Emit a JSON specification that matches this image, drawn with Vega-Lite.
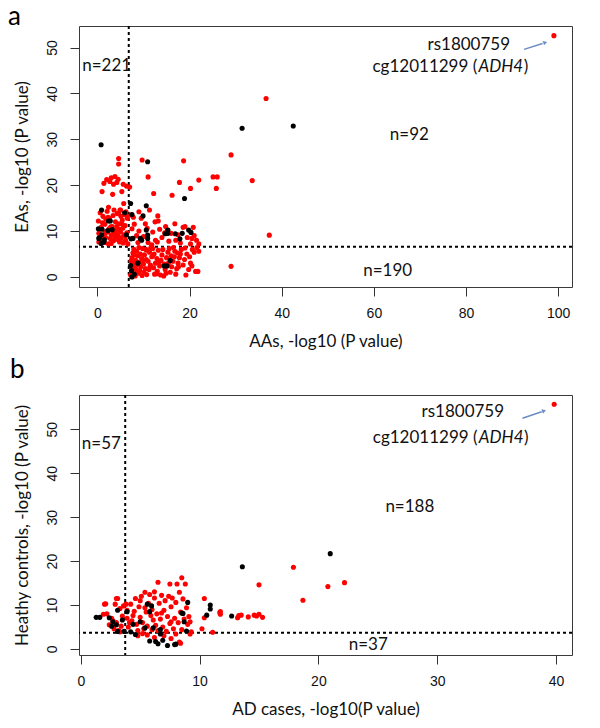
{
  "$schema": "https://vega.github.io/schema/vega-lite/v6.json",
  "background": "white",
  "padding": {"left": 7, "top": 3, "right": 5, "bottom": 3},
  "spacing": 6,
  "datasets": {
    "a": [
      {"x":0.2,"y":12.2,"c":"r"},{"x":0.3,"y":9.5,"c":"r"},{"x":0.5,"y":8.2,"c":"r"},{"x":0.8,"y":10.8,"c":"r"},{"x":1.0,"y":18.6,"c":"r"},{"x":1.2,"y":13.2,"c":"r"},{"x":1.3,"y":9.0,"c":"r"},{"x":1.4,"y":20.4,"c":"r"},{"x":1.5,"y":7.5,"c":"r"},{"x":1.6,"y":11.5,"c":"r"},{"x":1.8,"y":8.6,"c":"r"},{"x":2.0,"y":21.2,"c":"r"},{"x":2.1,"y":14.3,"c":"r"},{"x":2.2,"y":9.8,"c":"r"},{"x":2.4,"y":7.2,"c":"r"},{"x":2.5,"y":10.5,"c":"r"},{"x":2.6,"y":12.8,"c":"r"},{"x":2.7,"y":20.8,"c":"r"},{"x":2.8,"y":8.4,"c":"r"},{"x":3.0,"y":9.2,"c":"r"},{"x":3.0,"y":21.6,"c":"r"},{"x":3.2,"y":11.0,"c":"r"},{"x":3.3,"y":18.0,"c":"r"},{"x":3.4,"y":13.4,"c":"r"},{"x":3.5,"y":7.9,"c":"r"},{"x":3.5,"y":20.2,"c":"r"},{"x":3.6,"y":9.6,"c":"r"},{"x":3.8,"y":21.9,"c":"r"},{"x":3.9,"y":12.0,"c":"r"},{"x":4.0,"y":10.2,"c":"r"},{"x":4.1,"y":8.2,"c":"r"},{"x":4.2,"y":20.6,"c":"r"},{"x":4.3,"y":13.8,"c":"r"},{"x":4.4,"y":9.0,"c":"r"},{"x":4.5,"y":21.3,"c":"r"},{"x":4.6,"y":25.8,"c":"r"},{"x":4.6,"y":24.6,"c":"r"},{"x":4.7,"y":11.6,"c":"r"},{"x":4.8,"y":7.6,"c":"r"},{"x":4.9,"y":14.6,"c":"r"},{"x":5.0,"y":9.8,"c":"r"},{"x":5.1,"y":13.2,"c":"r"},{"x":5.2,"y":8.6,"c":"r"},{"x":5.3,"y":18.6,"c":"r"},{"x":5.4,"y":12.4,"c":"r"},{"x":5.5,"y":10.6,"c":"r"},{"x":5.6,"y":7.4,"c":"r"},{"x":5.7,"y":16.0,"c":"r"},{"x":5.8,"y":9.2,"c":"r"},{"x":5.9,"y":13.6,"c":"r"},{"x":6.0,"y":11.2,"c":"r"},{"x":6.1,"y":8.0,"c":"r"},{"x":6.2,"y":14.2,"c":"r"},{"x":6.3,"y":19.8,"c":"r"},{"x":6.4,"y":9.6,"c":"r"},{"x":6.5,"y":12.8,"c":"r"},{"x":6.6,"y":7.2,"c":"r"},{"x":0.6,"y":14.0,"c":"r"},{"x":1.1,"y":11.8,"c":"r"},{"x":1.7,"y":9.6,"c":"r"},{"x":2.3,"y":13.0,"c":"r"},{"x":2.9,"y":10.9,"c":"r"},{"x":3.6,"y":14.6,"c":"r"},{"x":4.2,"y":11.0,"c":"r"},{"x":5.0,"y":14.6,"c":"r"},{"x":4.6,"y":13.9,"c":"r"},{"x":0.3,"y":7.6,"c":"r"},{"x":1.0,"y":8.0,"c":"r"},{"x":2.0,"y":10.0,"c":"r"},{"x":3.0,"y":7.3,"c":"r"},{"x":4.0,"y":9.4,"c":"r"},{"x":5.0,"y":8.2,"c":"r"},{"x":6.0,"y":9.0,"c":"r"},{"x":6.3,"y":13.4,"c":"r"},{"x":5.6,"y":20.2,"c":"r"},{"x":2.4,"y":15.2,"c":"r"},{"x":1.8,"y":12.6,"c":"r"},{"x":0.7,"y":9.0,"c":"r"},{"x":3.8,"y":8.6,"c":"r"},{"x":4.8,"y":10.4,"c":"r"},{"x":5.3,"y":11.6,"c":"r"},
      {"x":9.7,"y":25.5,"c":"r"},{"x":11.0,"y":21.8,"c":"r"},{"x":12.2,"y":18.2,"c":"r"},{"x":16.2,"y":17.8,"c":"r"},{"x":17.8,"y":20.6,"c":"r"},{"x":18.7,"y":25.3,"c":"r"},{"x":20.2,"y":19.3,"c":"r"},{"x":22.0,"y":21.1,"c":"r"},{"x":25.1,"y":21.8,"c":"r"},{"x":26.0,"y":21.8,"c":"r"},{"x":25.8,"y":19.3,"c":"r"},{"x":29.0,"y":26.6,"c":"r"},{"x":33.6,"y":21.0,"c":"r"},{"x":36.6,"y":38.9,"c":"r"},{"x":37.3,"y":9.1,"c":"r"},{"x":11.3,"y":14.6,"c":"r"},{"x":13.1,"y":13.3,"c":"r"},{"x":13.2,"y":12.2,"c":"r"},{"x":8.0,"y":11.5,"c":"r"},{"x":9.5,"y":12.8,"c":"r"},{"x":7.5,"y":10.5,"c":"r"},{"x":8.5,"y":9.0,"c":"r"},{"x":9.0,"y":10.0,"c":"r"},{"x":10.0,"y":8.8,"c":"r"},{"x":11.0,"y":7.5,"c":"r"},{"x":12.0,"y":9.8,"c":"r"},{"x":12.6,"y":8.0,"c":"r"},{"x":13.5,"y":10.4,"c":"r"},{"x":14.0,"y":8.6,"c":"r"},{"x":14.8,"y":11.0,"c":"r"},{"x":15.5,"y":7.8,"c":"r"},{"x":16.0,"y":9.5,"c":"r"},{"x":17.0,"y":8.0,"c":"r"},{"x":18.0,"y":7.4,"c":"r"},{"x":18.6,"y":10.8,"c":"r"},{"x":19.5,"y":8.6,"c":"r"},{"x":20.2,"y":7.2,"c":"r"},{"x":20.8,"y":10.8,"c":"r"},{"x":21.5,"y":8.0,"c":"r"},{"x":21.0,"y":9.0,"c":"r"},{"x":7.3,"y":13.5,"c":"r"},{"x":8.8,"y":7.5,"c":"r"},{"x":10.4,"y":11.6,"c":"r"},{"x":11.8,"y":7.0,"c":"r"},{"x":14.6,"y":9.6,"c":"r"},{"x":16.8,"y":11.6,"c":"r"},{"x":19.0,"y":11.0,"c":"r"},{"x":7.0,"y":19.6,"c":"r"},{"x":7.8,"y":13.0,"c":"r"},{"x":12.5,"y":12.0,"c":"r"},{"x":15.2,"y":10.2,"c":"r"},{"x":17.5,"y":9.2,"c":"r"},{"x":9.0,"y":14.2,"c":"r"},{"x":10.8,"y":10.6,"c":"r"},{"x":13.0,"y":7.6,"c":"r"},{"x":20.5,"y":8.4,"c":"r"},{"x":22.0,"y":7.2,"c":"r"},
      {"x":7.2,"y":0.4,"c":"r"},{"x":7.4,"y":1.2,"c":"r"},{"x":7.6,"y":2.0,"c":"r"},{"x":7.8,"y":3.0,"c":"r"},{"x":7.5,"y":4.2,"c":"r"},{"x":7.7,"y":5.2,"c":"r"},{"x":7.9,"y":6.0,"c":"r"},{"x":8.2,"y":0.2,"c":"r"},{"x":8.4,"y":1.6,"c":"r"},{"x":8.6,"y":2.6,"c":"r"},{"x":8.3,"y":3.6,"c":"r"},{"x":8.8,"y":4.6,"c":"r"},{"x":8.5,"y":5.6,"c":"r"},{"x":8.9,"y":0.8,"c":"r"},{"x":9.2,"y":1.4,"c":"r"},{"x":9.4,"y":2.2,"c":"r"},{"x":9.0,"y":3.2,"c":"r"},{"x":9.6,"y":4.0,"c":"r"},{"x":9.3,"y":5.0,"c":"r"},{"x":9.8,"y":6.2,"c":"r"},{"x":9.7,"y":0.3,"c":"r"},{"x":10.1,"y":1.0,"c":"r"},{"x":10.4,"y":1.8,"c":"r"},{"x":10.0,"y":2.8,"c":"r"},{"x":10.6,"y":3.8,"c":"r"},{"x":10.2,"y":4.8,"c":"r"},{"x":10.8,"y":5.8,"c":"r"},{"x":10.7,"y":0.5,"c":"r"},{"x":11.2,"y":1.6,"c":"r"},{"x":11.5,"y":2.6,"c":"r"},{"x":11.0,"y":3.4,"c":"r"},{"x":11.8,"y":4.4,"c":"r"},{"x":11.3,"y":5.4,"c":"r"},{"x":12.0,"y":6.2,"c":"r"},{"x":12.4,"y":0.6,"c":"r"},{"x":12.2,"y":2.0,"c":"r"},{"x":12.6,"y":3.0,"c":"r"},{"x":12.9,"y":4.0,"c":"r"},{"x":12.3,"y":5.0,"c":"r"},{"x":13.2,"y":5.8,"c":"r"},{"x":13.0,"y":1.2,"c":"r"},{"x":13.7,"y":0.4,"c":"r"},{"x":13.5,"y":2.4,"c":"r"},{"x":13.8,"y":3.6,"c":"r"},{"x":14.0,"y":4.8,"c":"r"},{"x":14.2,"y":6.0,"c":"r"},{"x":14.4,"y":0.2,"c":"r"},{"x":14.7,"y":1.6,"c":"r"},{"x":14.5,"y":2.8,"c":"r"},{"x":15.0,"y":4.2,"c":"r"},{"x":15.3,"y":5.4,"c":"r"},{"x":15.6,"y":6.2,"c":"r"},{"x":15.8,"y":1.0,"c":"r"},{"x":16.1,"y":2.2,"c":"r"},{"x":16.4,"y":3.4,"c":"r"},{"x":16.0,"y":4.6,"c":"r"},{"x":16.8,"y":5.6,"c":"r"},{"x":17.0,"y":0.6,"c":"r"},{"x":17.2,"y":1.8,"c":"r"},{"x":17.5,"y":3.0,"c":"r"},{"x":17.8,"y":4.2,"c":"r"},{"x":17.4,"y":5.2,"c":"r"},{"x":18.2,"y":6.0,"c":"r"},{"x":18.6,"y":2.6,"c":"r"},{"x":18.9,"y":3.8,"c":"r"},{"x":19.2,"y":0.4,"c":"r"},{"x":19.4,"y":5.0,"c":"r"},{"x":19.8,"y":1.6,"c":"r"},{"x":20.0,"y":4.4,"c":"r"},{"x":20.2,"y":3.0,"c":"r"},{"x":20.6,"y":6.0,"c":"r"},{"x":21.0,"y":5.4,"c":"r"},{"x":21.3,"y":1.2,"c":"r"},{"x":21.8,"y":1.2,"c":"r"},{"x":21.6,"y":6.4,"c":"r"},{"x":22.0,"y":5.6,"c":"r"},{"x":29.0,"y":2.3,"c":"r"},{"x":12.9,"y":0.7,"c":"r"},{"x":8.0,"y":4.8,"c":"r"},{"x":11.6,"y":6.4,"c":"r"},{"x":16.5,"y":6.4,"c":"r"},{"x":10.5,"y":6.0,"c":"r"},{"x":9.0,"y":6.4,"c":"r"},{"x":14.9,"y":0.8,"c":"r"},{"x":18.0,"y":5.0,"c":"r"},{"x":20.5,"y":2.4,"c":"r"},{"x":12.0,"y":4.6,"c":"r"},{"x":15.4,"y":3.0,"c":"r"},{"x":17.6,"y":2.2,"c":"r"},{"x":8.2,"y":2.4,"c":"r"},{"x":9.9,"y":3.6,"c":"r"},{"x":11.4,"y":2.2,"c":"r"},{"x":13.3,"y":3.2,"c":"r"},{"x":16.7,"y":4.4,"c":"r"},{"x":19.0,"y":6.3,"c":"r"},{"x":7.3,"y":3.5,"c":"r"},{"x":99.07,"y":52.6,"c":"r"},
      {"x":0.8,"y":28.8,"c":"k"},{"x":0.9,"y":14.6,"c":"k"},{"x":2.4,"y":12.2,"c":"k"},{"x":2.8,"y":12.2,"c":"k"},{"x":0.2,"y":10.5,"c":"k"},{"x":0.3,"y":8.4,"c":"k"},{"x":0.8,"y":7.3,"c":"k"},{"x":1.4,"y":7.6,"c":"k"},{"x":0.4,"y":8.5,"c":"k"},{"x":1.5,"y":8.1,"c":"k"},{"x":2.3,"y":10.1,"c":"k"},{"x":3.2,"y":10.3,"c":"k"},{"x":0.9,"y":9.2,"c":"k"},{"x":6.3,"y":9.2,"c":"k"},{"x":1.0,"y":10.4,"c":"k"},{"x":5.9,"y":14.0,"c":"k"},
      {"x":7.2,"y":16.0,"c":"k"},{"x":10.6,"y":15.5,"c":"k"},{"x":7.5,"y":13.6,"c":"k"},{"x":9.9,"y":13.3,"c":"k"},{"x":10.6,"y":10.2,"c":"k"},{"x":10.9,"y":9.1,"c":"k"},{"x":10.9,"y":8.4,"c":"k"},{"x":9.3,"y":8.4,"c":"k"},{"x":7.7,"y":8.4,"c":"k"},{"x":15.3,"y":10.2,"c":"k"},{"x":15.3,"y":9.5,"c":"k"},{"x":18.4,"y":9.5,"c":"k"},{"x":19.8,"y":10.2,"c":"k"},{"x":20.3,"y":9.7,"c":"k"},{"x":17.9,"y":8.3,"c":"k"},{"x":10.9,"y":25.1,"c":"k"},{"x":18.9,"y":17.1,"c":"k"},{"x":31.4,"y":32.4,"c":"k"},{"x":42.5,"y":32.9,"c":"k"},{"x":7.3,"y":8.3,"c":"k"},{"x":9.6,"y":8.0,"c":"k"},{"x":14.7,"y":9.4,"c":"k"},{"x":16.9,"y":9.4,"c":"k"},
      {"x":7.2,"y":2.5,"c":"k"},{"x":7.5,"y":0.0,"c":"k"},{"x":7.4,"y":1.4,"c":"k"},{"x":8.0,"y":0.6,"c":"k"},{"x":15.8,"y":3.6,"c":"k"},{"x":14.5,"y":2.4,"c":"k"},{"x":15.1,"y":2.4,"c":"k"},{"x":8.8,"y":3.0,"c":"k"}
    ],
    "b": [
      {"x":2.0,"y":10.2,"c":"r"},{"x":2.9,"y":10.2,"c":"r"},{"x":3.0,"y":11.5,"c":"r"},{"x":2.2,"y":8.0,"c":"r"},{"x":2.6,"y":7.0,"c":"r"},{"x":3.3,"y":9.2,"c":"r"},{"x":2.4,"y":5.5,"c":"r"},{"x":3.0,"y":6.0,"c":"r"},{"x":3.5,"y":7.5,"c":"r"},{"x":2.8,"y":4.6,"c":"r"},{"x":3.2,"y":4.2,"c":"r"},{"x":3.4,"y":5.2,"c":"r"},{"x":1.9,"y":7.9,"c":"r"},{"x":2.1,"y":10.3,"c":"r"},{"x":3.1,"y":11.5,"c":"r"},{"x":3.6,"y":9.8,"c":"r"},{"x":2.7,"y":6.4,"c":"r"},{"x":3.3,"y":3.9,"c":"r"},
      {"x":3.8,"y":10.2,"c":"r"},{"x":4.2,"y":10.2,"c":"r"},{"x":3.9,"y":7.0,"c":"r"},{"x":4.0,"y":5.0,"c":"r"},{"x":4.3,"y":6.4,"c":"r"},{"x":4.5,"y":8.6,"c":"r"},{"x":4.6,"y":11.5,"c":"r"},{"x":4.7,"y":5.6,"c":"r"},{"x":4.8,"y":4.2,"c":"r"},{"x":4.9,"y":9.6,"c":"r"},{"x":5.0,"y":7.2,"c":"r"},{"x":5.1,"y":12.0,"c":"r"},{"x":5.2,"y":6.0,"c":"r"},{"x":5.3,"y":4.6,"c":"r"},{"x":5.4,"y":12.9,"c":"r"},{"x":5.5,"y":8.4,"c":"r"},{"x":5.6,"y":5.2,"c":"r"},{"x":5.7,"y":10.4,"c":"r"},{"x":5.8,"y":12.4,"c":"r"},{"x":5.9,"y":7.6,"c":"r"},{"x":6.0,"y":4.4,"c":"r"},{"x":6.0,"y":9.0,"c":"r"},{"x":6.1,"y":6.6,"c":"r"},{"x":6.2,"y":11.6,"c":"r"},{"x":6.3,"y":5.4,"c":"r"},{"x":6.4,"y":8.0,"c":"r"},{"x":6.5,"y":15.2,"c":"r"},{"x":6.5,"y":4.2,"c":"r"},{"x":6.6,"y":10.4,"c":"r"},{"x":6.7,"y":6.8,"c":"r"},{"x":6.8,"y":12.2,"c":"r"},{"x":6.9,"y":5.0,"c":"r"},{"x":7.0,"y":8.8,"c":"r"},{"x":7.1,"y":11.0,"c":"r"},{"x":7.2,"y":4.0,"c":"r"},{"x":7.3,"y":7.4,"c":"r"},{"x":7.4,"y":12.0,"c":"r"},{"x":7.5,"y":14.8,"c":"r"},{"x":7.5,"y":5.8,"c":"r"},{"x":7.6,"y":9.6,"c":"r"},{"x":7.7,"y":11.6,"c":"r"},{"x":7.8,"y":4.6,"c":"r"},{"x":7.9,"y":7.0,"c":"r"},{"x":8.0,"y":10.6,"c":"r"},{"x":8.1,"y":14.8,"c":"r"},{"x":8.2,"y":6.0,"c":"r"},{"x":8.3,"y":12.9,"c":"r"},{"x":8.4,"y":8.4,"c":"r"},{"x":8.5,"y":16.2,"c":"r"},{"x":8.5,"y":4.4,"c":"r"},{"x":8.6,"y":11.4,"c":"r"},{"x":8.7,"y":6.8,"c":"r"},{"x":8.8,"y":14.8,"c":"r"},{"x":8.9,"y":9.4,"c":"r"},{"x":9.0,"y":5.6,"c":"r"},{"x":9.1,"y":7.4,"c":"r"},{"x":9.2,"y":6.2,"c":"r"},{"x":9.3,"y":3.9,"c":"r"},{"x":5.4,"y":9.4,"c":"r"},{"x":4.4,"y":7.6,"c":"r"},{"x":6.8,"y":8.2,"c":"r"},{"x":7.6,"y":6.2,"c":"r"},{"x":5.0,"y":11.0,"c":"r"},{"x":6.2,"y":13.0,"c":"r"},{"x":3.9,"y":8.8,"c":"r"},{"x":4.1,"y":6.0,"c":"r"},{"x":10.2,"y":4.6,"c":"r"},{"x":10.4,"y":7.1,"c":"r"},{"x":10.4,"y":11.5,"c":"r"},{"x":11.1,"y":3.8,"c":"r"},{"x":11.7,"y":8.3,"c":"r"},{"x":11.75,"y":8.5,"c":"r"},{"x":11.75,"y":7.9,"c":"r"},{"x":13.2,"y":7.1,"c":"r"},{"x":13.5,"y":7.7,"c":"r"},{"x":14.1,"y":7.3,"c":"r"},{"x":14.6,"y":7.7,"c":"r"},{"x":15.0,"y":7.9,"c":"r"},{"x":15.3,"y":7.2,"c":"r"},{"x":15.0,"y":14.6,"c":"r"},{"x":17.9,"y":18.6,"c":"r"},{"x":18.7,"y":11.1,"c":"r"},{"x":20.8,"y":14.2,"c":"r"},{"x":22.2,"y":15.1,"c":"r"},{"x":13.3,"y":7.6,"c":"r"},{"x":14.8,"y":7.5,"c":"r"},{"x":39.85,"y":55.7,"c":"r"},
      {"x":8.3,"y":1.6,"c":"r"},{"x":8.4,"y":1.3,"c":"r"},{"x":4.8,"y":3.0,"c":"r"},{"x":5.6,"y":3.2,"c":"r"},{"x":6.2,"y":2.6,"c":"r"},{"x":7.0,"y":3.0,"c":"r"},{"x":7.6,"y":2.4,"c":"r"},{"x":8.0,"y":3.4,"c":"r"},{"x":9.2,"y":3.4,"c":"r"},{"x":5.2,"y":3.5,"c":"r"},
      {"x":13.6,"y":18.7,"c":"k"},{"x":21.0,"y":21.7,"c":"k"},{"x":12.7,"y":7.5,"c":"k"},{"x":10.9,"y":10.0,"c":"k"},{"x":10.9,"y":9.1,"c":"k"},{"x":10.6,"y":7.7,"c":"k"},{"x":9.0,"y":10.6,"c":"k"},{"x":8.5,"y":8.2,"c":"k"},{"x":8.9,"y":4.1,"c":"k"},{"x":1.3,"y":7.2,"c":"k"},{"x":1.6,"y":7.2,"c":"k"},{"x":3.1,"y":8.8,"c":"k"},{"x":2.4,"y":7.1,"c":"k"},{"x":2.7,"y":6.2,"c":"k"},{"x":2.6,"y":5.2,"c":"k"},{"x":3.0,"y":5.5,"c":"k"},{"x":3.1,"y":4.0,"c":"k"},{"x":3.65,"y":4.0,"c":"k"},{"x":3.9,"y":8.5,"c":"k"},{"x":5.6,"y":10.2,"c":"k"},{"x":5.96,"y":9.8,"c":"k"},{"x":5.8,"y":8.5,"c":"k"},{"x":6.7,"y":4.4,"c":"k"},{"x":6.7,"y":3.4,"c":"k"},{"x":4.2,"y":3.9,"c":"k"},{"x":4.6,"y":3.3,"c":"k"},{"x":5.8,"y":1.8,"c":"k"},{"x":6.3,"y":1.7,"c":"k"},{"x":6.9,"y":2.0,"c":"k"},{"x":6.5,"y":1.2,"c":"k"},{"x":7.3,"y":0.8,"c":"k"},{"x":7.9,"y":1.0,"c":"k"},{"x":8.0,"y":1.1,"c":"k"},{"x":8.7,"y":6.2,"c":"k"},{"x":8.6,"y":8.1,"c":"k"},{"x":5.4,"y":4.8,"c":"k"},{"x":4.4,"y":5.6,"c":"k"},{"x":5.0,"y":6.2,"c":"k"},{"x":6.1,"y":4.8,"c":"k"},{"x":3.5,"y":6.6,"c":"k"}
    ],
    "thrA": [{"x":6.8,"y":6.6}],
    "thrB": [{"x":3.74,"y":3.71}],
    "arrowA": [{"x":92.6,"y":49.6,"x2":96.6,"y2":50.9}],
    "headA": [{"x":97.2,"y":51.1}],
    "arrowB": [{"x":37.18,"y":52.5,"x2":38.8,"y2":54.0}],
    "headB": [{"x":39.0,"y":54.2}],
    "centerA": [{"x":67.7,"y":30.9,"t":"n=92"},{"x":63.0,"y":1.2,"t":"n=190"},{"x":80.6,"y":50.6,"t":"rs1800759"}],
    "leftA": [{"x":-3.3,"y":45.9,"t":"n=221"}],
    "closeA": [{"x":93.5,"y":45.7,"t":")"}],
    "geneA": [{"x":93.5,"y":45.7,"t":"ADH4"}],
    "probeA": [{"x":93.5,"y":45.7,"t":"cg12011299 ("}],
    "centerB": [{"x":27.7,"y":32.2,"t":"n=188"},{"x":24.2,"y":0.9,"t":"n=37"},{"x":32.16,"y":53.9,"t":"rs1800759"}],
    "leftB": [{"x":0.09,"y":46.6,"t":"n=57"}],
    "closeB": [{"x":37.69,"y":48.1,"t":")"}],
    "geneB": [{"x":37.69,"y":48.1,"t":"ADH4"}],
    "probeB": [{"x":37.69,"y":48.1,"t":"cg12011299 ("}]
  },
  "vconcat": [
    {
      "title": {"text": "a", "anchor": "start", "frame": "group", "dx": -71, "fontSize": 26, "font": "Lato", "fontWeight": "normal", "color": "#000", "offset": -5},
      "width": 493,
      "height": 261,
      "layer": [
        {
          "data": {"name": "thrA"},
          "mark": {"type": "rule", "strokeDash": [3, 3], "strokeWidth": 2, "color": "#000"},
          "encoding": {"x": {"field": "x", "type": "quantitative", "scale": {"domain": [-4, 103], "nice": false, "zero": false}, "axis": {"values": [0, 20, 40, 60, 80, 100], "title": "AAs, -log10 (P value)"}}}
        },
        {
          "data": {"name": "thrA"},
          "mark": {"type": "rule", "strokeDash": [3, 3], "strokeWidth": 2, "color": "#000"},
          "encoding": {"y": {"field": "y", "type": "quantitative", "scale": {"domain": [-2.2, 54.7], "nice": false, "zero": false}, "axis": {"values": [0, 10, 20, 30, 40, 50], "title": "EAs, -log10 (P value)"}}}
        },
        {
          "data": {"name": "a"},
          "mark": {"type": "circle", "size": 26, "opacity": 1},
          "encoding": {
            "x": {"field": "x", "type": "quantitative", "scale": {"domain": [-4, 103], "nice": false, "zero": false}, "axis": {"values": [0, 20, 40, 60, 80, 100], "title": "AAs, -log10 (P value)"}},
            "y": {"field": "y", "type": "quantitative", "scale": {"domain": [-2.2, 54.7], "nice": false, "zero": false}, "axis": {"values": [0, 10, 20, 30, 40, 50], "title": "EAs, -log10 (P value)"}},
            "color": {"field": "c", "type": "nominal", "scale": {"domain": ["r", "k"], "range": ["#ff0000", "#000000"]}, "legend": null}
          }
        },
        {
          "data": {"name": "arrowA"},
          "mark": {"type": "rule", "color": "#6b8cc4", "strokeWidth": 1.5},
          "encoding": {
            "x": {"field": "x", "type": "quantitative", "scale": {"domain": [-4, 103], "nice": false, "zero": false}, "axis": {"values": [0, 20, 40, 60, 80, 100], "title": "AAs, -log10 (P value)"}},
            "y": {"field": "y", "type": "quantitative", "scale": {"domain": [-2.2, 54.7], "nice": false, "zero": false}, "axis": {"values": [0, 10, 20, 30, 40, 50], "title": "EAs, -log10 (P value)"}},
            "x2": {"field": "x2"}, "y2": {"field": "y2"}
          }
        },
        {
          "data": {"name": "headA"},
          "mark": {"type": "point", "shape": "triangle-right", "filled": true, "color": "#6b8cc4", "size": 22, "angle": -18, "opacity": 1},
          "encoding": {
            "x": {"field": "x", "type": "quantitative", "scale": {"domain": [-4, 103], "nice": false, "zero": false}, "axis": {"values": [0, 20, 40, 60, 80, 100], "title": "AAs, -log10 (P value)"}},
            "y": {"field": "y", "type": "quantitative", "scale": {"domain": [-2.2, 54.7], "nice": false, "zero": false}, "axis": {"values": [0, 10, 20, 30, 40, 50], "title": "EAs, -log10 (P value)"}}
          }
        },
        {
          "data": {"name": "centerA"},
          "mark": {"type": "text", "font": "Lato", "fontSize": 17, "color": "#111", "align": "center", "baseline": "middle"},
          "encoding": {
            "x": {"field": "x", "type": "quantitative", "scale": {"domain": [-4, 103], "nice": false, "zero": false}, "axis": {"values": [0, 20, 40, 60, 80, 100], "title": "AAs, -log10 (P value)"}},
            "y": {"field": "y", "type": "quantitative", "scale": {"domain": [-2.2, 54.7], "nice": false, "zero": false}, "axis": {"values": [0, 10, 20, 30, 40, 50], "title": "EAs, -log10 (P value)"}},
            "text": {"field": "t"}
          }
        },
        {
          "data": {"name": "leftA"},
          "mark": {"type": "text", "font": "Lato", "fontSize": 17, "color": "#111", "align": "left", "baseline": "middle"},
          "encoding": {
            "x": {"field": "x", "type": "quantitative", "scale": {"domain": [-4, 103], "nice": false, "zero": false}, "axis": {"values": [0, 20, 40, 60, 80, 100], "title": "AAs, -log10 (P value)"}},
            "y": {"field": "y", "type": "quantitative", "scale": {"domain": [-2.2, 54.7], "nice": false, "zero": false}, "axis": {"values": [0, 10, 20, 30, 40, 50], "title": "EAs, -log10 (P value)"}},
            "text": {"field": "t"}
          }
        },
        {
          "data": {"name": "closeA"},
          "mark": {"type": "text", "font": "Lato", "fontSize": 17, "color": "#111", "align": "right", "baseline": "middle"},
          "encoding": {
            "x": {"field": "x", "type": "quantitative", "scale": {"domain": [-4, 103], "nice": false, "zero": false}, "axis": {"values": [0, 20, 40, 60, 80, 100], "title": "AAs, -log10 (P value)"}},
            "y": {"field": "y", "type": "quantitative", "scale": {"domain": [-2.2, 54.7], "nice": false, "zero": false}, "axis": {"values": [0, 10, 20, 30, 40, 50], "title": "EAs, -log10 (P value)"}},
            "text": {"field": "t"}
          }
        },
        {
          "data": {"name": "geneA"},
          "mark": {"type": "text", "font": "Lato", "fontSize": 17, "fontStyle": "italic", "color": "#111", "align": "right", "baseline": "middle", "dx": -5},
          "encoding": {
            "x": {"field": "x", "type": "quantitative", "scale": {"domain": [-4, 103], "nice": false, "zero": false}, "axis": {"values": [0, 20, 40, 60, 80, 100], "title": "AAs, -log10 (P value)"}},
            "y": {"field": "y", "type": "quantitative", "scale": {"domain": [-2.2, 54.7], "nice": false, "zero": false}, "axis": {"values": [0, 10, 20, 30, 40, 50], "title": "EAs, -log10 (P value)"}},
            "text": {"field": "t"}
          }
        },
        {
          "data": {"name": "probeA"},
          "mark": {"type": "text", "font": "Lato", "fontSize": 17, "color": "#111", "align": "right", "baseline": "middle", "dx": -51},
          "encoding": {
            "x": {"field": "x", "type": "quantitative", "scale": {"domain": [-4, 103], "nice": false, "zero": false}, "axis": {"values": [0, 20, 40, 60, 80, 100], "title": "AAs, -log10 (P value)"}},
            "y": {"field": "y", "type": "quantitative", "scale": {"domain": [-2.2, 54.7], "nice": false, "zero": false}, "axis": {"values": [0, 10, 20, 30, 40, 50], "title": "EAs, -log10 (P value)"}},
            "text": {"field": "t"}
          }
        }
      ]
    },
    {
      "title": {"text": "b", "anchor": "start", "frame": "group", "dx": -69, "fontSize": 26, "font": "Lato", "fontWeight": "normal", "color": "#000", "offset": 11},
      "width": 493,
      "height": 260,
      "layer": [
        {
          "data": {"name": "thrB"},
          "mark": {"type": "rule", "strokeDash": [3, 3], "strokeWidth": 2, "color": "#000"},
          "encoding": {"x": {"field": "x", "type": "quantitative", "scale": {"domain": [-0.15, 41.35], "nice": false, "zero": false}, "axis": {"values": [0, 10, 20, 30, 40], "title": "AD cases, -log10(P value)"}}}
        },
        {
          "data": {"name": "thrB"},
          "mark": {"type": "rule", "strokeDash": [3, 3], "strokeWidth": 2, "color": "#000"},
          "encoding": {"y": {"field": "y", "type": "quantitative", "scale": {"domain": [-1.37, 57.8], "nice": false, "zero": false}, "axis": {"values": [0, 10, 20, 30, 40, 50], "title": "Heathy controls, -log10 (P value)"}}}
        },
        {
          "data": {"name": "b"},
          "mark": {"type": "circle", "size": 26, "opacity": 1},
          "encoding": {
            "x": {"field": "x", "type": "quantitative", "scale": {"domain": [-0.15, 41.35], "nice": false, "zero": false}, "axis": {"values": [0, 10, 20, 30, 40], "title": "AD cases, -log10(P value)"}},
            "y": {"field": "y", "type": "quantitative", "scale": {"domain": [-1.37, 57.8], "nice": false, "zero": false}, "axis": {"values": [0, 10, 20, 30, 40, 50], "title": "Heathy controls, -log10 (P value)"}},
            "color": {"field": "c", "type": "nominal", "scale": {"domain": ["r", "k"], "range": ["#ff0000", "#000000"]}, "legend": null}
          }
        },
        {
          "data": {"name": "arrowB"},
          "mark": {"type": "rule", "color": "#6b8cc4", "strokeWidth": 1.5},
          "encoding": {
            "x": {"field": "x", "type": "quantitative", "scale": {"domain": [-0.15, 41.35], "nice": false, "zero": false}, "axis": {"values": [0, 10, 20, 30, 40], "title": "AD cases, -log10(P value)"}},
            "y": {"field": "y", "type": "quantitative", "scale": {"domain": [-1.37, 57.8], "nice": false, "zero": false}, "axis": {"values": [0, 10, 20, 30, 40, 50], "title": "Heathy controls, -log10 (P value)"}},
            "x2": {"field": "x2"}, "y2": {"field": "y2"}
          }
        },
        {
          "data": {"name": "headB"},
          "mark": {"type": "point", "shape": "triangle-right", "filled": true, "color": "#6b8cc4", "size": 22, "angle": -19, "opacity": 1},
          "encoding": {
            "x": {"field": "x", "type": "quantitative", "scale": {"domain": [-0.15, 41.35], "nice": false, "zero": false}, "axis": {"values": [0, 10, 20, 30, 40], "title": "AD cases, -log10(P value)"}},
            "y": {"field": "y", "type": "quantitative", "scale": {"domain": [-1.37, 57.8], "nice": false, "zero": false}, "axis": {"values": [0, 10, 20, 30, 40, 50], "title": "Heathy controls, -log10 (P value)"}}
          }
        },
        {
          "data": {"name": "centerB"},
          "mark": {"type": "text", "font": "Lato", "fontSize": 17, "color": "#111", "align": "center", "baseline": "middle"},
          "encoding": {
            "x": {"field": "x", "type": "quantitative", "scale": {"domain": [-0.15, 41.35], "nice": false, "zero": false}, "axis": {"values": [0, 10, 20, 30, 40], "title": "AD cases, -log10(P value)"}},
            "y": {"field": "y", "type": "quantitative", "scale": {"domain": [-1.37, 57.8], "nice": false, "zero": false}, "axis": {"values": [0, 10, 20, 30, 40, 50], "title": "Heathy controls, -log10 (P value)"}},
            "text": {"field": "t"}
          }
        },
        {
          "data": {"name": "leftB"},
          "mark": {"type": "text", "font": "Lato", "fontSize": 17, "color": "#111", "align": "left", "baseline": "middle"},
          "encoding": {
            "x": {"field": "x", "type": "quantitative", "scale": {"domain": [-0.15, 41.35], "nice": false, "zero": false}, "axis": {"values": [0, 10, 20, 30, 40], "title": "AD cases, -log10(P value)"}},
            "y": {"field": "y", "type": "quantitative", "scale": {"domain": [-1.37, 57.8], "nice": false, "zero": false}, "axis": {"values": [0, 10, 20, 30, 40, 50], "title": "Heathy controls, -log10 (P value)"}},
            "text": {"field": "t"}
          }
        },
        {
          "data": {"name": "closeB"},
          "mark": {"type": "text", "font": "Lato", "fontSize": 17, "color": "#111", "align": "right", "baseline": "middle"},
          "encoding": {
            "x": {"field": "x", "type": "quantitative", "scale": {"domain": [-0.15, 41.35], "nice": false, "zero": false}, "axis": {"values": [0, 10, 20, 30, 40], "title": "AD cases, -log10(P value)"}},
            "y": {"field": "y", "type": "quantitative", "scale": {"domain": [-1.37, 57.8], "nice": false, "zero": false}, "axis": {"values": [0, 10, 20, 30, 40, 50], "title": "Heathy controls, -log10 (P value)"}},
            "text": {"field": "t"}
          }
        },
        {
          "data": {"name": "geneB"},
          "mark": {"type": "text", "font": "Lato", "fontSize": 17, "fontStyle": "italic", "color": "#111", "align": "right", "baseline": "middle", "dx": -5},
          "encoding": {
            "x": {"field": "x", "type": "quantitative", "scale": {"domain": [-0.15, 41.35], "nice": false, "zero": false}, "axis": {"values": [0, 10, 20, 30, 40], "title": "AD cases, -log10(P value)"}},
            "y": {"field": "y", "type": "quantitative", "scale": {"domain": [-1.37, 57.8], "nice": false, "zero": false}, "axis": {"values": [0, 10, 20, 30, 40, 50], "title": "Heathy controls, -log10 (P value)"}},
            "text": {"field": "t"}
          }
        },
        {
          "data": {"name": "probeB"},
          "mark": {"type": "text", "font": "Lato", "fontSize": 17, "color": "#111", "align": "right", "baseline": "middle", "dx": -51},
          "encoding": {
            "x": {"field": "x", "type": "quantitative", "scale": {"domain": [-0.15, 41.35], "nice": false, "zero": false}, "axis": {"values": [0, 10, 20, 30, 40], "title": "AD cases, -log10(P value)"}},
            "y": {"field": "y", "type": "quantitative", "scale": {"domain": [-1.37, 57.8], "nice": false, "zero": false}, "axis": {"values": [0, 10, 20, 30, 40, 50], "title": "Heathy controls, -log10 (P value)"}},
            "text": {"field": "t"}
          }
        }
      ]
    }
  ],
  "config": {
    "view": {"stroke": "#3a3a3a", "strokeWidth": 1},
    "axis": {"domain": false, "grid": false, "ticks": true, "tickSize": 9, "tickColor": "#333", "tickWidth": 1, "labelFont": "Liberation Sans", "labelFontSize": 14, "labelColor": "#111", "titleFont": "Lato", "titleFontSize": 17, "titleFontWeight": "normal", "titleColor": "#111", "labelFlush": false, "labelOverlap": false},
    "axisX": {"labelPadding": 10.5, "titlePadding": 13},
    "axisY": {"labelAngle": 270, "labelAlign": "center", "labelBaseline": "middle", "labelPadding": 18, "titlePadding": 14}
  }
}
